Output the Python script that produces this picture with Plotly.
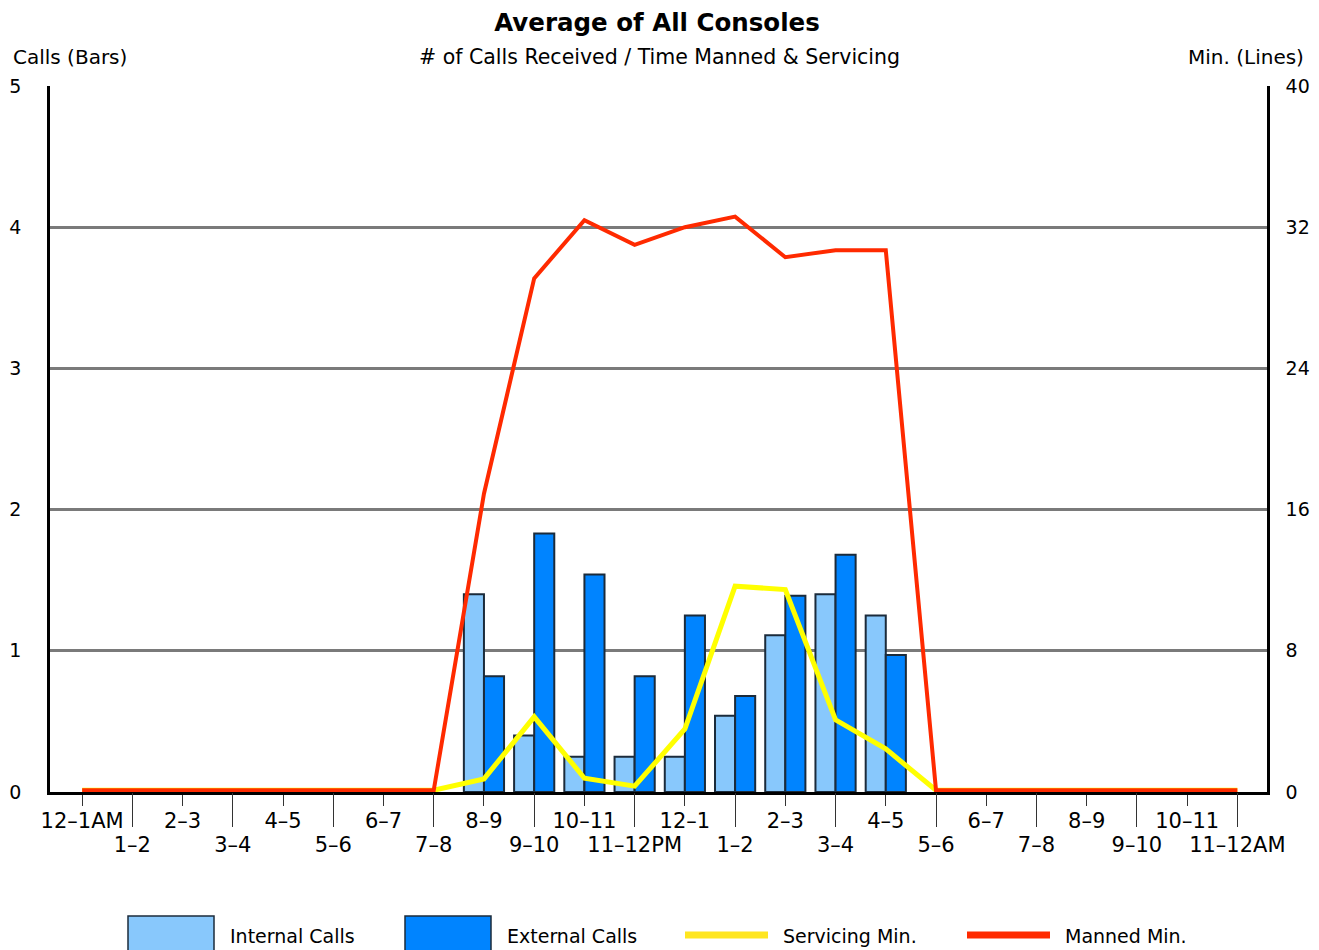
import plotly.graph_objects as go
from plotly.subplots import make_subplots

# Data
hours = ["12–1AM", "1–2", "2–3", "3–4", "4–5", "5–6", "6–7", "7–8",
         "8–9", "9–10", "10–11", "11–12PM", "12–1", "1–2", "2–3", "3–4",
         "4–5", "5–6", "6–7", "7–8", "8–9", "9–10", "10–11", "11–12AM"]
internal_calls = [None, None, None, None, None, None, None, None,
                  1.40, 0.40, 0.25, 0.25, 0.25, 0.54, 1.11, 1.40,
                  1.25, None, None, None, None, None, None, None]
external_calls = [None, None, None, None, None, None, None, None,
                  0.82, 1.83, 1.54, 0.82, 1.25, 0.68, 1.39, 1.68,
                  0.97, None, None, None, None, None, None, None]
servicing_min = [0.1, 0.1, 0.1, 0.1, 0.1, 0.1, 0.1, 0.1,
                 0.74, 4.26, 0.78, 0.33, 3.57, 11.66, 11.47, 4.09,
                 2.44, 0.1, 0.1, 0.1, 0.1, 0.1, 0.1, 0.1]
manned_min = [0.1, 0.1, 0.1, 0.1, 0.1, 0.1, 0.1, 0.1,
              16.9, 29.1, 32.4, 31.0, 32.0, 32.6, 30.3, 30.7,
              30.7, 0.1, 0.1, 0.1, 0.1, 0.1, 0.1, 0.1]
left_ticks = [0, 1, 2, 3, 4, 5]
right_ticks = [0, 8, 16, 24, 32, 40]

INTERNAL_C = "#88C8FC"
EXTERNAL_C = "#0084FF"
OUTLINE_C = "#1B2B3B"
YELLOW = "#FFFF00"
RED = "#FF2A00"
FONT = "DejaVu Sans"

# page geometry in pixels; the page body has an 8px margin
OFF = 8
W, H = 1319 - OFF, 950 - OFF
PL, PR, PT, PB = 50, 1267, 86, 792


def px_x(px):
    return (px - PL) / (PR - PL)


def px_y(py):
    return (PB - py) / (PB - PT)


x_idx = list(range(len(hours)))
# even hours labelled on the first row, odd hours on the second (long ticks)
bottom_vals = [i for i in x_idx if i % 2 == 1]

fig = make_subplots(specs=[[{"secondary_y": True}]])
fig.add_trace(go.Bar(x=x_idx, y=internal_calls, name="Internal Calls",
                     marker=dict(color=INTERNAL_C, line=dict(color=OUTLINE_C, width=2))),
              secondary_y=False)
fig.add_trace(go.Bar(x=x_idx, y=external_calls, name="External Calls",
                     marker=dict(color=EXTERNAL_C, line=dict(color=OUTLINE_C, width=2))),
              secondary_y=False)
fig.add_trace(go.Scatter(x=x_idx, y=servicing_min, name="Servicing Min.", mode="lines",
                         line=dict(color=YELLOW, width=5)), secondary_y=True)
# the manned line sits on the second-row x axis (same range) so that axis gets drawn
fig.add_trace(go.Scatter(x=x_idx, y=manned_min, name="Manned Min.", mode="lines",
                         line=dict(color=RED, width=4), xaxis="x3", yaxis="y2"))

xrange = [-0.64, 23.59]
fig.update_layout(
    width=W, height=H,
    margin=dict(l=PL - OFF, r=W - (PR - OFF), t=PT - OFF, b=H - (PB - OFF)),
    plot_bgcolor="white", paper_bgcolor="white",
    font=dict(family=FONT, size=19, color="black"),
    barmode="group", bargap=0.2, bargroupgap=0,
    showlegend=False,
    title=dict(text="<b>Average of All Consoles</b>", xref="paper", x=px_x(657),
               xanchor="center", y=1 - (22 - OFF) / H, yanchor="middle",
               font=dict(size=24.5)),
    xaxis=dict(domain=[0, 1], range=xrange, tickmode="array", tickvals=x_idx,
               ticktext=[hours[i] if i % 2 == 0 else "" for i in x_idx],
               ticks="outside", ticklen=11, tickwidth=1, ticklabelstandoff=-3,
               tickcolor="#333", tickfont=dict(size=21), automargin=False,
               showline=True, linecolor="black", linewidth=2.5, showgrid=False,
               zeroline=False, tickangle=0),
    xaxis3=dict(domain=[0, 1], range=xrange, overlaying="x", anchor="y", tickmode="array",
                tickvals=bottom_vals, ticktext=[hours[i] for i in bottom_vals],
                ticks="outside", ticklen=34, tickwidth=1, tickcolor="#333",
                tickfont=dict(size=21), automargin=False, tickangle=0,
                showline=False, showgrid=False, zeroline=False),
)
fig.update_yaxes(range=[0, 5], tickvals=left_ticks, ticks="", showgrid=True,
                 gridcolor="#7A7A7A", gridwidth=2.5, showline=True, linecolor="black",
                 linewidth=2.5, zeroline=False, ticklabelstandoff=22, automargin=False,
                 secondary_y=False)
fig.update_yaxes(range=[0, 40], tickvals=right_ticks, ticks="", showgrid=False,
                 showline=True, linecolor="black", linewidth=2.5, zeroline=False,
                 ticklabelstandoff=12, automargin=False, secondary_y=True)

# axis titles and subtitle
fig.add_annotation(text="Calls (Bars)", xref="paper", yref="paper", x=px_x(11), y=px_y(57),
                   xanchor="left", yanchor="middle", showarrow=False, font=dict(size=20))
fig.add_annotation(text="Min. (Lines)", xref="paper", yref="paper", x=px_x(1306), y=px_y(57),
                   xanchor="right", yanchor="middle", showarrow=False, font=dict(size=20))
fig.add_annotation(text="# of Calls Received / Time Manned & Servicing", xref="paper",
                   yref="paper", x=px_x(659), y=px_y(57), xanchor="center",
                   yanchor="middle", showarrow=False, font=dict(size=20.5))

# custom legend at the bottom
legend_items = [("Internal Calls", "box", INTERNAL_C, 128),
                ("External Calls", "box", EXTERNAL_C, 405),
                ("Servicing Min.", "line", "#FFE620", 685),
                ("Manned Min.", "line", RED, 967)]
for label, kind, color, x0 in legend_items:
    if kind == "box":
        fig.add_shape(type="rect", xref="paper", yref="paper",
                      x0=px_x(x0), x1=px_x(x0 + 86), y0=px_y(916), y1=px_y(960),
                      fillcolor=color, line=dict(color=OUTLINE_C, width=1.5))
    else:
        fig.add_shape(type="line", xref="paper", yref="paper",
                      x0=px_x(x0), x1=px_x(x0 + 83), y0=px_y(935), y1=px_y(935),
                      line=dict(color=color, width=7))
    fig.add_annotation(text=label, xref="paper", yref="paper",
                       x=px_x(x0 + (100 if kind == "box" else 96)),
                       y=px_y(936), xanchor="left", yanchor="middle", showarrow=False)

fig.write_html("out.html")
